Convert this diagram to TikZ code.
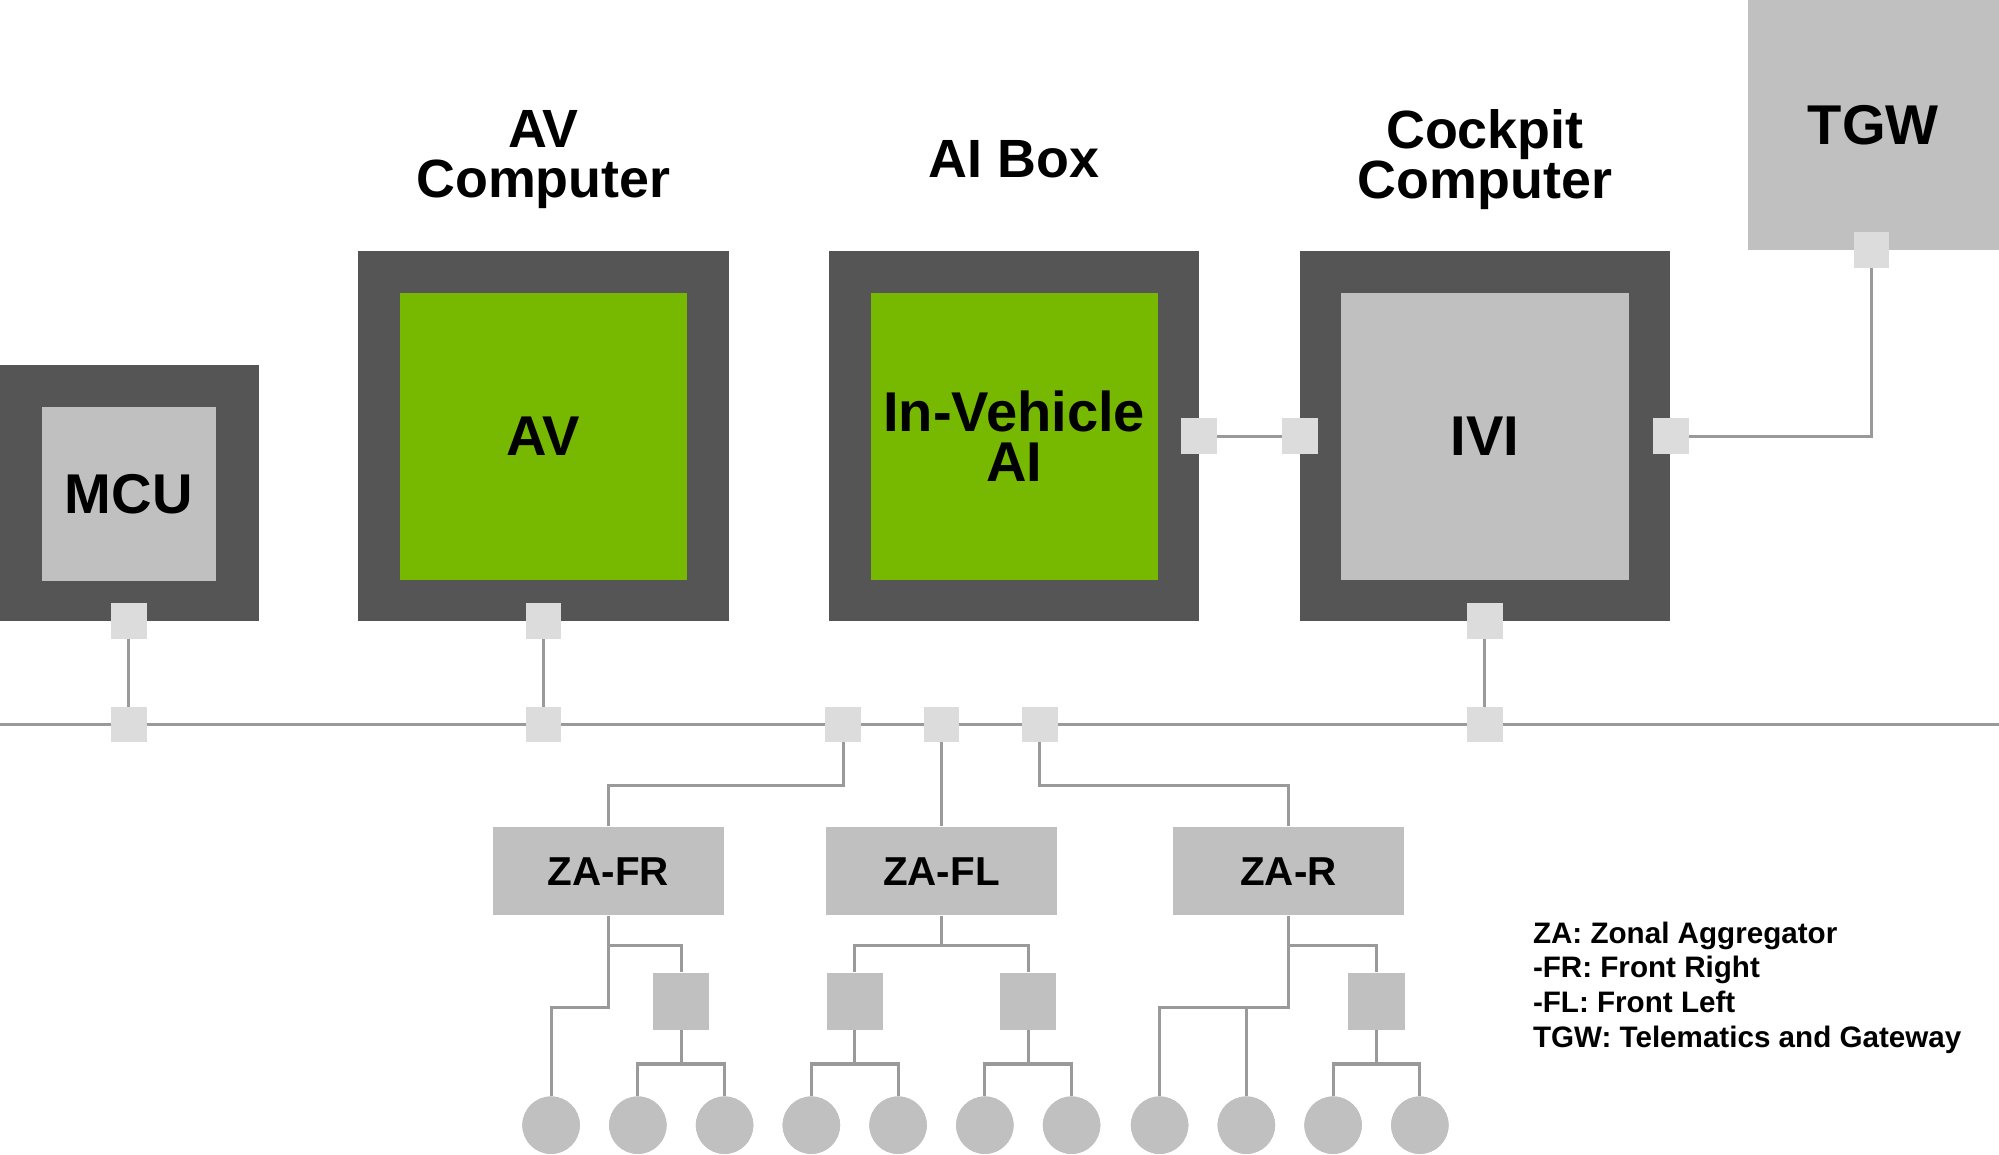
\documentclass[tikz,border=0pt]{standalone}
\usepackage{fontspec}
\setmainfont{Liberation Sans}
\usetikzlibrary{positioning}
\definecolor{darkbox}{HTML}{555555}
\definecolor{lightbox}{HTML}{C0C0C0}
\definecolor{nvgreen}{HTML}{76B900}
\definecolor{portgray}{HTML}{DCDCDC}
\definecolor{wiregray}{HTML}{9A9A9A}
\tikzset{
  outer/.style={fill=darkbox,draw=none,inner sep=0pt},
  chip/.style={draw=none,inner sep=0pt,font=\bfseries\fontsize{12.5}{13}\selectfont,align=center},
  title/.style={font=\bfseries\fontsize{12}{14}\selectfont,align=center},
  port/.style={fill=portgray,minimum size=0.28cm,inner sep=0pt},
  za/.style={fill=lightbox,minimum width=1.81cm,minimum height=0.69cm,inner sep=0pt,font=\bfseries\fontsize{9}{10}\selectfont},
  sub/.style={fill=lightbox,minimum size=0.44cm,inner sep=0pt},
  leaf/.style={circle,fill=lightbox,minimum size=0.45cm,inner sep=0pt},
  wire/.style={draw=wiregray,line width=0.7pt}
}
\begin{document}
\begin{tikzpicture}[x=0.01cm,y=-0.01cm]
  \useasboundingbox (0,0) rectangle (1567,905);
  % computers
  \node[outer,minimum width=2.03cm,minimum height=2.01cm] (mcubox) at (101.5,386.5) {};
  \node[chip,fill=lightbox,minimum size=1.36cm] (mcu) at (101,387) {MCU};
  \node[outer,minimum size=2.90cm] (avbox) at (426,342) {};
  \node[chip,fill=nvgreen,minimum size=2.25cm] (av) at (426,342) {AV};
  \node[outer,minimum size=2.90cm] (aibox) at (795,342) {};
  \node[chip,fill=nvgreen,minimum size=2.25cm] (ai) at (795,342) {In-Vehicle\\[-2pt]AI};
  \node[outer,minimum size=2.90cm] (ckbox) at (1164,342) {};
  \node[chip,fill=lightbox,minimum size=2.25cm] (ivi) at (1164,342) {IVI};
  \node[chip,fill=lightbox,minimum width=1.97cm,minimum height=1.96cm] (tgw) at (1468.5,98) {TGW};
  % titles
  \node[title] (avtitle) at (426,125) {AV\\[-3pt]Computer};
  \node[title] (aititle) at (795,125) {AI Box};
  \node[title] (cktitle) at (1164,125) {Cockpit\\[-3pt]Computer};
  % bus
  \coordinate (busl) at (0,568);
  \coordinate (busr) at (1567,568);
  \draw[wire] (busl) -- (busr);
  % wires and ports
  \draw[wire] (940,342) -- (1019,342);
  \draw[wire] (1310,342) -| (1467,196);
  \foreach \x in {101,426,1164}
    \draw[wire] (\x,487) -- (\x,568);
  \node[za] (zafr) at (477,683) {ZA-FR};
  \node[za] (zafl) at (738,683) {ZA-FL};
  \node[za] (zar) at (1010,683) {ZA-R};
  \draw[wire] (661,568) -- (661,616) -| (zafr);
  \draw[wire] (738,568) -- (zafl);
  \draw[wire] (815,568) -- (815,616) -| (zar);
  \foreach \x/\y [count=\i] in {101/487,426/487,1164/487,101/568,426/568,1164/568,661/568,738/568,815/568,940/342,1019/342,1310/342,1467/196}
    \node[port] (p\i) at (\x,\y) {};
  % zonal subtrees
  \node[sub] (s1) at (534,785) {};
  \node[sub] (s2) at (670,785) {};
  \node[sub] (s3) at (806,785) {};
  \node[sub] (s4) at (1079,785) {};
  \foreach \x [count=\i] in {432,500,568,636,704,772,840,909,977,1045,1113}
    \node[leaf] (c\i) at (\x,882) {};
  \draw[wire] (zafr.south) -- (477,741) -| (s1);
  \draw[wire] (zafr.south) -- (477,790) -| (c1);
  \draw[wire] (s1) -- (534,834) -| (c2);
  \draw[wire] (534,834) -| (c3);
  \draw[wire] (zafl.south) -- (738,741) -| (s2);
  \draw[wire] (738,741) -| (s3);
  \draw[wire] (s2) -- (670,834) -| (c4);
  \draw[wire] (670,834) -| (c5);
  \draw[wire] (s3) -- (806,834) -| (c6);
  \draw[wire] (806,834) -| (c7);
  \draw[wire] (zar.south) -- (1010,741) -| (s4);
  \draw[wire] (zar.south) -- (1010,790) -| (c8);
  \draw[wire] (1010,790) -| (c9);
  \draw[wire] (s4) -- (1079,834) -| (c10);
  \draw[wire] (1079,834) -| (c11);
  \foreach \i in {1,...,4} \node[sub] at (s\i) {};
  \foreach \i in {1,...,11} \node[leaf] at (c\i) {};
  % legend
  \node[anchor=north west,align=left,font=\bfseries\fontsize{6.6}{7.7}\selectfont,inner sep=0pt] (legend) at (1201,722)
    {ZA: Zonal Aggregator\\-FR: Front Right\\-FL: Front Left\\TGW: Telematics and Gateway};
\end{tikzpicture}
\end{document}
